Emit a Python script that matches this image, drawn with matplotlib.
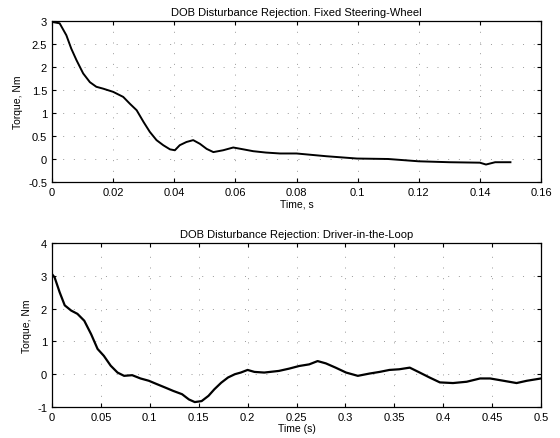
import numpy as np
from matplotlib import pyplot as plt
from matplotlib.ticker import FormatStrFormatter

# Fixed steering wheel response
t_fixed = [0, 0.0025, 0.0047, 0.0063, 0.008, 0.0102, 0.0124, 0.0145, 0.0167, 0.02,
           0.0233, 0.0255, 0.0277, 0.03, 0.032, 0.0342, 0.0364, 0.0386, 0.0402, 0.0418,
           0.044, 0.0462, 0.0484, 0.0506, 0.0528, 0.056, 0.0593, 0.0626, 0.0658, 0.07,
           0.0746, 0.08, 0.0898, 0.0998, 0.11, 0.12, 0.13, 0.14, 0.142, 0.145, 0.15]
tq_fixed = [2.98, 2.95, 2.69, 2.4, 2.15, 1.86, 1.67, 1.57, 1.53, 1.46,
            1.35, 1.2, 1.06, 0.8, 0.59, 0.41, 0.3, 0.21, 0.19, 0.3,
            0.37, 0.41, 0.33, 0.22, 0.15, 0.19, 0.25, 0.21, 0.17, 0.14,
            0.12, 0.12, 0.06, 0.01, 0.0, -0.05, -0.07, -0.08, -0.12, -0.07, -0.07]

# Driver-in-the-loop response
t_driver = [0, 0.0027, 0.0078, 0.013, 0.0196, 0.026, 0.033, 0.04, 0.0466, 0.053,
            0.06, 0.067, 0.0737, 0.082, 0.0905, 0.099, 0.107, 0.116, 0.124, 0.133,
            0.14, 0.146, 0.153, 0.16, 0.166, 0.173, 0.18, 0.187, 0.193, 0.2,
            0.207, 0.217, 0.232, 0.2425, 0.2527, 0.263, 0.2716, 0.28, 0.29, 0.3007,
            0.3127, 0.3247, 0.335, 0.345, 0.355, 0.3658, 0.376, 0.386, 0.3966, 0.41,
            0.424, 0.4377, 0.448, 0.4616, 0.475, 0.4856, 0.5]
tq_driver = [3.05, 2.95, 2.5, 2.1, 1.94, 1.84, 1.63, 1.22, 0.77, 0.56,
             0.26, 0.05, -0.05, -0.03, -0.13, -0.2, -0.3, -0.41, -0.51, -0.61,
             -0.77, -0.85, -0.82, -0.66, -0.46, -0.26, -0.1, 0.0, 0.05, 0.13,
             0.07, 0.05, 0.1, 0.17, 0.25, 0.3, 0.4, 0.33, 0.2, 0.05,
             -0.05, 0.02, 0.07, 0.13, 0.15, 0.2, 0.05, -0.1, -0.25, -0.27,
             -0.23, -0.13, -0.13, -0.2, -0.27, -0.2, -0.13]

plt.rcParams['font.family'] = ['Liberation Sans', 'DejaVu Sans']
plt.rcParams['font.size'] = 7.5

fig = plt.figure(figsize=(5.6, 4.39), dpi=100)
ax1 = fig.add_axes([52/560, 1-183/439, 489/560, 161/439])
ax2 = fig.add_axes([52/560, 1-408/439, 489/560, 164/439])


def style(ax):
    ax.tick_params(direction='in', top=True, right=True, length=3, labelsize=8)
    ax.grid(True, color='#999999', linestyle=(0, (1, 10)), linewidth=0.7)
    for s in ax.spines.values():
        s.set_linewidth(0.9)


ax1.plot(t_fixed, tq_fixed, color='black', linewidth=1.4)
ax1.set_xlim(0, 0.16)
ax1.set_ylim(-0.5, 3)
ax1.set_xticks(np.arange(0, 0.161, 0.02))
ax1.set_yticks(np.arange(-0.5, 3.01, 0.5))
ax1.xaxis.set_major_formatter(FormatStrFormatter('%g'))
ax1.yaxis.set_major_formatter(FormatStrFormatter('%g'))
ax1.set_title('DOB Disturbance Rejection. Fixed Steering-Wheel', fontsize=8, pad=4)
ax1.set_xlabel('Time, s', labelpad=1)
ax1.set_ylabel('Torque, Nm', labelpad=4)
style(ax1)

ax2.plot(t_driver, tq_driver, color='black', linewidth=1.6)
ax2.set_xlim(0, 0.5)
ax2.set_ylim(-1, 4)
ax2.set_xticks(np.arange(0, 0.501, 0.05))
ax2.set_yticks(np.arange(-1, 4.01, 1))
ax2.xaxis.set_major_formatter(FormatStrFormatter('%g'))
ax2.yaxis.set_major_formatter(FormatStrFormatter('%g'))
ax2.set_title('DOB Disturbance Rejection: Driver-in-the-Loop', fontsize=8, pad=4)
ax2.set_xlabel('Time (s)', labelpad=1)
ax2.set_ylabel('Torque, Nm', labelpad=4)
style(ax2)

fig.savefig('out.png', dpi=100)
